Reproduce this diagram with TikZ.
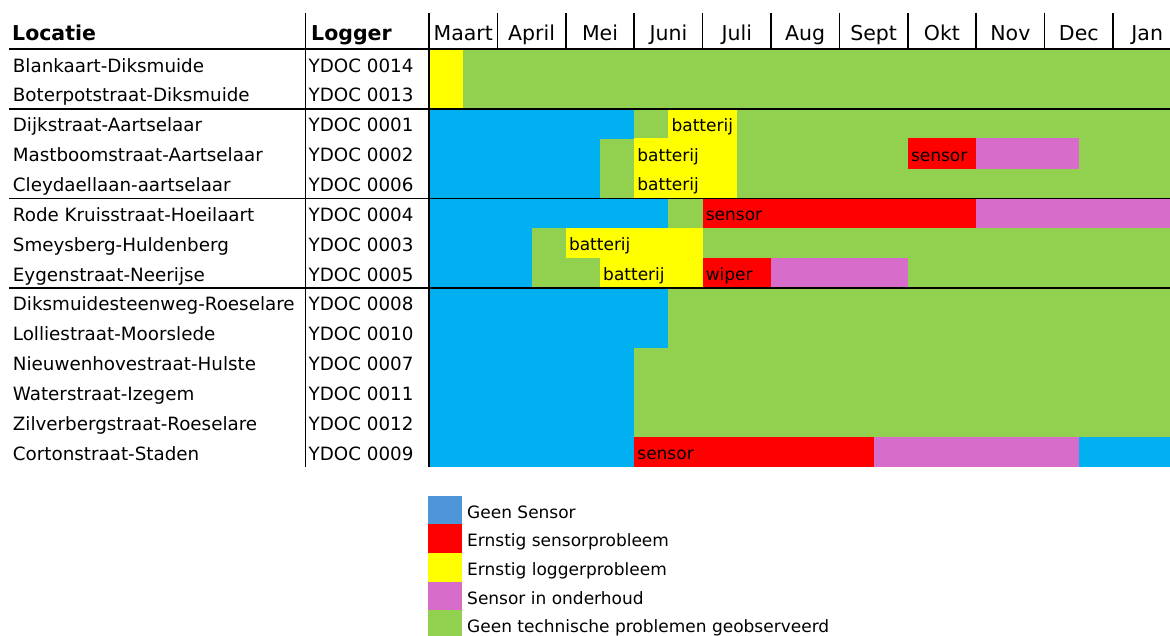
\documentclass[tikz,border=0pt]{standalone}
\usepackage{fontspec}
\setmainfont{DejaVu Sans}
\usepackage{tikz}
\usetikzlibrary{positioning,calc}

\definecolor{okgreen}{HTML}{92D050}
\definecolor{nosensorblue}{HTML}{00B0F0}
\definecolor{legendblue}{HTML}{4E95D9}
\definecolor{sensorred}{HTML}{FF0000}
\definecolor{loggeryellow}{HTML}{FFFF00}
\definecolor{servicepink}{HTML}{D76CCB}

\begin{document}
\begin{tikzpicture}[x=1pt, y=-1pt,
    grid/.style={line width=1.6pt, black},
    head/.style={anchor=base west, inner sep=0pt, font=\fontsize{20.5}{24}\selectfont\bfseries},
    month/.style={anchor=base, inner sep=0pt, font=\fontsize{20.5}{24}\selectfont},
    body/.style={anchor=base west, inner sep=0pt, font=\fontsize{18.3}{22}\selectfont},
    tag/.style={anchor=base west, inner sep=0pt, font=\fontsize{17}{20}\selectfont},
    key/.style={minimum width=34.5pt, minimum height=28.9pt, inner sep=0pt, draw=none},
    legtext/.style={anchor=base west, inner sep=0pt, font=\fontsize{17}{20}\selectfont}]
    \useasboundingbox (0,0) rectangle (1170,635);

    % Status bars
    \fill[okgreen] (429,49) rectangle (1170,467.04);
    \foreach \r/\a/\b/\c in {1/0/0.5/loggeryellow, 2/0/0.5/loggeryellow,
        3/0/3/nosensorblue, 3/3.5/4.5/loggeryellow,
        4/0/2.5/nosensorblue, 4/3/4.5/loggeryellow, 4/7/8/sensorred, 4/8/9.5/servicepink,
        5/0/2.5/nosensorblue, 5/3/4.5/loggeryellow,
        6/0/3.5/nosensorblue, 6/4/8/sensorred, 6/8/10.84/servicepink,
        7/0/1.5/nosensorblue, 7/2/4/loggeryellow,
        8/0/1.5/nosensorblue, 8/2.5/4/loggeryellow, 8/4/5/sensorred, 8/5/7/servicepink,
        9/0/3.5/nosensorblue, 10/0/3.5/nosensorblue,
        11/0/3/nosensorblue, 12/0/3/nosensorblue, 13/0/3/nosensorblue,
        14/0/3/nosensorblue, 14/3/6.5/sensorred, 14/6.5/9.5/servicepink, 14/9.5/10.84/nosensorblue}
        \fill[\c] ({429+\a*68.4},{49+(\r-1)*29.86-0.3}) rectangle ({429+\b*68.4},{49+\r*29.86+0.3});

    % Bar labels
    \foreach \r/\a/\t [count=\j] in {3/3.5/batterij, 4/3/batterij, 4/7/sensor, 5/3/batterij,
        6/4/sensor, 7/2/batterij, 8/2.5/batterij, 8/4/wiper, 14/3/sensor}
        \node[tag] (tag\j) at ({429+\a*68.4+3},{49+(\r-1)*29.86+22.5}) {\t};

    % Grid lines
    \draw[grid] (9,49) -- (1170,49);
    \foreach \y in {108.7,198.3,287.9}
        \draw[grid] (9,\y) -- (1170,\y);
    \draw[grid] (305.5,12.5) -- (305.5,467);
    \draw[grid] (429,12.5) -- (429,467);
    \foreach \k in {1,...,10}
        \draw[grid] ({429+\k*68.4},12.5) -- ({429+\k*68.4},49);

    % Header
    \node[head] (locatie) at (12,40.5) {Locatie};
    \node[head] (logger) at (311,40.5) {Logger};
    \foreach \m [count=\k] in {Maart,April,Mei,Juni,Juli,Aug,Sept,Okt,Nov,Dec,Jan}
        \node[month] (month\k) at ({429+(\k-0.5)*68.4},40.5) {\m};

    % Locations and loggers
    \foreach \loc/\log [count=\i] in {Blankaart-Diksmuide/YDOC 0014,
        Boterpotstraat-Diksmuide/YDOC 0013, Dijkstraat-Aartselaar/YDOC 0001,
        Mastboomstraat-Aartselaar/YDOC 0002, Cleydaellaan-aartselaar/YDOC 0006,
        Rode Kruisstraat-Hoeilaart/YDOC 0004, Smeysberg-Huldenberg/YDOC 0003,
        Eygenstraat-Neerijse/YDOC 0005, Diksmuidesteenweg-Roeselare/YDOC 0008,
        Lolliestraat-Moorslede/YDOC 0010, Nieuwenhovestraat-Hulste/YDOC 0007,
        Waterstraat-Izegem/YDOC 0011, Zilverbergstraat-Roeselare/YDOC 0012,
        Cortonstraat-Staden/YDOC 0009} {
        \node[body] (loc\i) at (12.7,{49+(\i-1)*29.86+23}) {\loc};
        \node[body] (log\i) at (308.5,{49+(\i-1)*29.86+23}) {\log};
    }

    % Legend
    \foreach \c/\t [count=\k] in {legendblue/Geen Sensor, sensorred/Ernstig sensorprobleem,
        loggeryellow/Ernstig loggerprobleem, servicepink/Sensor in onderhoud,
        okgreen/Geen technische problemen geobserveerd} {
        \node[key, fill=\c] (key\k) at (445.2,{496+(\k-0.5)*28.6}) {};
        \node[legtext] (leg\k) at (467,{496+(\k-1)*28.6+22.3}) {\t};
    }
\end{tikzpicture}
\end{document}
